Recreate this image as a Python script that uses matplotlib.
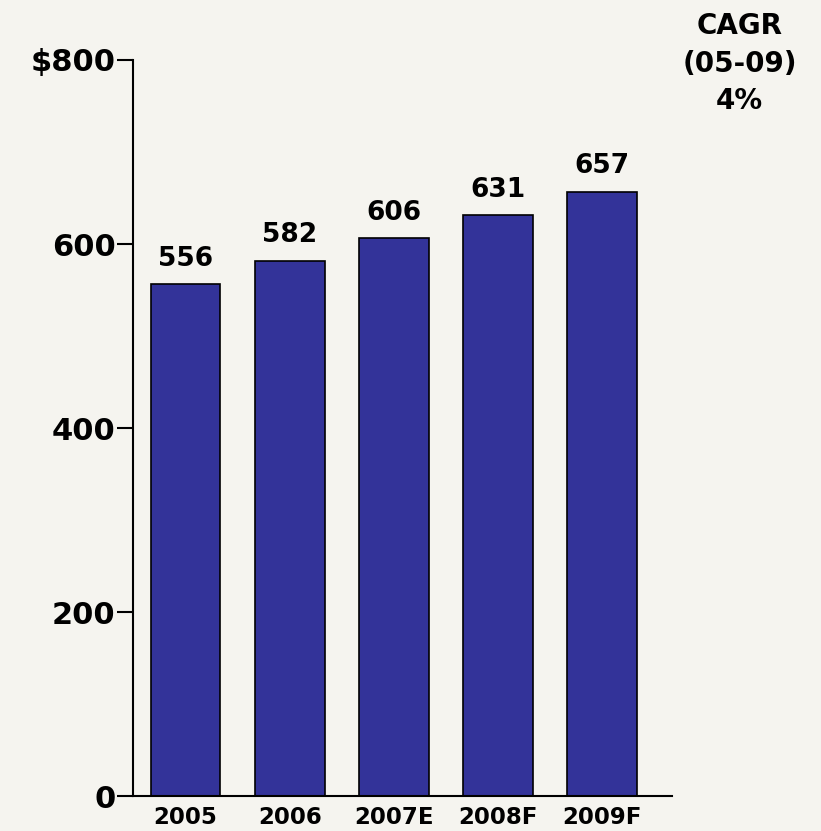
import matplotlib

matplotlib.use("Agg")
import matplotlib.pyplot as plt

years = ["2005", "2006", "2007E", "2008F", "2009F"]
values = [556, 582, 606, 631, 657]
y_ticks = [0, 200, 400, 600, 800]
y_tick_labels = ["0", "200", "400", "600", "$800"]
cagr_text = "CAGR\n(05-09)\n4%"

bg = "#f5f4ef"
bar_color = "#333399"

plt.rcParams["font.family"] = ["DejaVu Sans"]
plt.rcParams["font.weight"] = "bold"

fig = plt.figure(figsize=(8.21, 8.31), dpi=100, facecolor=bg)
ax = fig.add_axes([0.162, 0.0421, 0.6565, 0.8857])
ax.set_facecolor(bg)

x = range(len(years))
ax.bar(x, values, width=0.67, color=bar_color, edgecolor="black", linewidth=1.2)

for xi, v in zip(x, values):
    ax.annotate(str(v), (xi, v), xytext=(0, 9), textcoords="offset points",
                ha="center", va="bottom", fontsize=19, fontweight="bold")

ax.set_xlim(-0.504, 4.67)
ax.set_ylim(0, 800)
ax.set_yticks(y_ticks)
ax.set_yticklabels(y_tick_labels, fontsize=22, fontweight="bold")
ax.tick_params(axis="y", direction="out", length=11.5, width=1.5, pad=1)
ax.set_xticks(list(x))
ax.set_xticklabels(years, fontsize=16.5, fontweight="bold")
ax.tick_params(axis="x", length=0, pad=7)

for side in ["top", "right"]:
    ax.spines[side].set_visible(False)
for side in ["left", "bottom"]:
    ax.spines[side].set_linewidth(1.5)

fig.text(0.901, 0.986, cagr_text, ha="center", va="top", fontsize=20,
         fontweight="bold", linespacing=1.45)

fig.savefig("out.png", dpi=100, facecolor=bg)
